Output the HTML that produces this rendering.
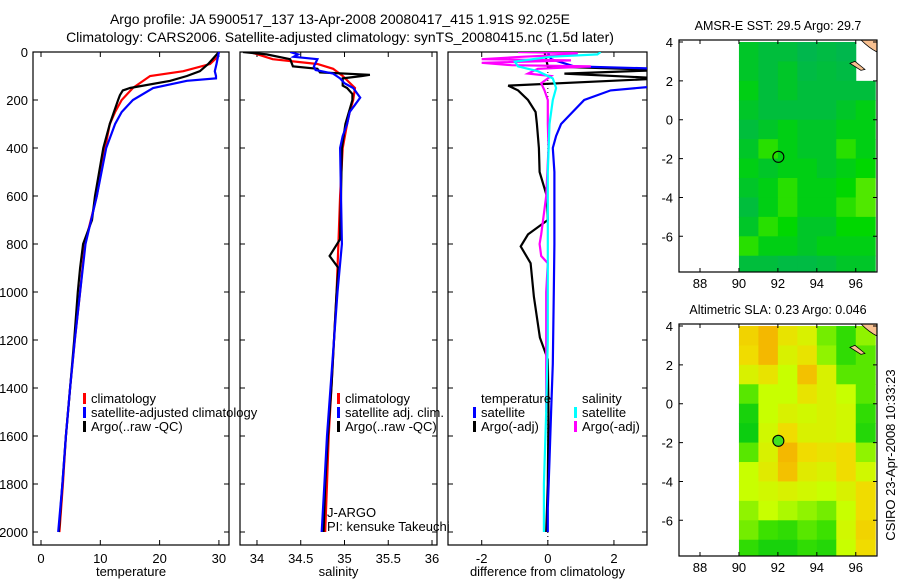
<!DOCTYPE html>
<html><head><meta charset="utf-8">
<style>
html,body{margin:0;padding:0;background:#fff;}
svg{display:block;font-family:"Liberation Sans",sans-serif;}
</style></head>
<body>
<svg id="fig" width="900" height="580" viewBox="0 0 900 580" xmlns="http://www.w3.org/2000/svg">
<text x="340" y="24" font-size="14" text-anchor="middle">Argo profile: JA 5900517_137 13-Apr-2008 20080417_415 1.91S 92.025E</text>
<text x="340" y="42" font-size="14" text-anchor="middle">Climatology: CARS2006. Satellite-adjusted climatology: synTS_20080415.nc (1.5d later)</text>
<g id="g1"></g>
<g id="g2"></g>
<g id="g3"></g>
<g id="m1"></g>
<g id="m2"></g>
<text transform="translate(895,455) rotate(-90)" font-size="13" text-anchor="middle">CSIRO 23-Apr-2008 10:33:23</text>
</svg>
<script>
// ---- profile data ----
const depthTicks = [0,200,400,600,800,1000,1200,1400,1600,1800,2000];
const tempTicks = [0,10,20,30];
const salTicks = [34,34.5,35,35.5,36];
const diffTicks = [-2,0,2];

const tClimDepth = [0,20,50,80,100,150,200,250,300,400,600,800,1000,1200,1400,1600,1800,2000];
const tClimVal   = [30,29.8,28.5,24,18.4,15.5,13.6,12.5,11.6,10.8,9.4,7.4,6.6,5.7,4.9,4.2,3.7,3.1];
const tSatDepth = [0,50,80,100,110,120,150,200,250,300,400,600,800,1000,1200,1400,1600,1800,2000];
const tSatVal   = [30,29.6,29.3,29.5,29.5,24.6,18.9,15.5,13.6,12.5,11,9.4,7.5,6.6,5.7,4.9,4.2,3.6,2.9];
const tArgoDepth = [0,50,80,100,120,150,160,180,200,300,400,600,700,800,900,1000,1200,1400,1600,1800,2000];
const tArgoVal   = [30,28.2,26.8,24.6,21.8,15,13.8,13.3,13,11.6,10.5,9.1,8.6,7.1,6.6,6.2,5.6,4.9,4.2,3.6,3.0];

const sClimDepth = [0,30,50,70,100,150,200,250,300,400,600,800,1000,1200,1400,1600,1800,2000];
const sClimVal   = [33.92,34.18,34.69,34.87,34.98,35.12,35.10,35.06,35.03,34.98,34.95,34.93,34.91,34.88,34.85,34.82,34.80,34.78];
const sSatDepth = [0,10,20,30,60,75,90,110,130,150,190,220,250,300,350,400,600,800,1000,1200,1400,1600,1800,2000];
const sSatVal   = [34.38,34.47,34.42,34.69,34.65,34.67,34.87,34.95,35.0,35.1,35.18,35.12,35.06,35.03,34.98,34.95,34.96,34.97,34.92,34.88,34.84,34.80,34.77,34.74];
const sArgoDepth = [0,10,30,60,70,85,95,100,110,140,150,175,200,250,300,400,600,780,850,900,1000,1200,1400,1600,1800,2000];
const sArgoVal   = [33.84,34.11,34.38,34.41,34.69,34.72,35.29,35.20,34.98,34.98,35.03,35.09,35.09,35.05,35.01,34.97,34.96,34.95,34.83,34.93,34.91,34.88,34.85,34.81,34.78,34.76];

const dTSatDepth = [0,30,60,70,100,140,160,200,250,300,350,400,500,600,800,1000,1300,1500,1700,1900,2000];
const dTSatVal   = [0,0.1,0.8,3.5,3.5,3.5,1.9,1.1,0.75,0.4,0.25,0.15,0.2,0.2,0.2,0.18,0.15,0.1,0.05,0,0];
const dTArgoDepth = [0,60,75,90,110,140,160,200,250,300,400,500,600,700,760,810,880,1020,1190,1280,1500,1800,2000];
const dTArgoVal   = [-0.1,0,3.5,0.5,3.5,-1.2,-0.9,-0.6,-0.37,-0.33,-0.27,-0.25,-0.03,0,-0.6,-0.82,-0.52,-0.42,-0.24,0,0.02,0,-0.05];
const dSSatDepth = [0,10,20,40,60,80,110,150,200,300,500,800,1000,1200,1500,1800,2000];
const dSSatVal   = [1.6,1.5,0.07,-1,-0.9,-0.3,0.15,0.25,0.15,0.05,0,0,0,0,-0.05,-0.12,-0.12];
const dSArgoDepth = [0,5,10,20,30,35,45,55,60,70,90,100,130,160,200,300,400,600,760,800,850,880,1000,1500];
const dSArgoVal   = [-0.9,0.9,0.8,-0.8,-2,0.7,-2,-1.1,1.3,-0.3,-0.6,0.1,-0.2,-0.1,0,0,0.02,-0.05,-0.2,-0.25,-0.2,0,-0.05,-0.05];

// ---- map data (1-degree cells, lon 90..97, lat 4..-8) ----
const mapLonStart = [90,91,92,93,94,95,96];
const mapLatStart = [4,3,2,1,0,-1,-2,-3,-4,-5,-6,-7];
const sstGrid = [
 [0.35,0.3,0.3,0.2,0.25,0.2,null],
 [0.35,0.3,0.35,0.25,0.3,0.25,null],
 [0.4,0.3,0.35,0.3,0.3,0.3,0.3],
 [0.35,0.3,0.3,0.3,0.3,0.35,0.4],
 [0.3,0.35,0.4,0.35,0.35,0.4,0.4],
 [0.35,0.5,0.4,0.35,0.35,0.5,0.4],
 [0.4,0.35,0.4,0.4,0.35,0.4,0.45],
 [0.35,0.4,0.5,0.4,0.4,0.45,0.55],
 [0.3,0.4,0.5,0.4,0.4,0.5,0.55],
 [0.35,0.5,0.45,0.35,0.35,0.45,0.45],
 [0.5,0.4,0.4,0.35,0.4,0.4,0.4],
 [0.3,0.3,0.25,0.25,0.3,0.35,0.35]];
const slaGrid = [
 [0.8,0.95,0.7,0.6,0.35,0.2,0.4],
 [0.75,0.95,0.6,0.7,0.4,0.2,0.3],
 [0.6,0.7,0.5,0.9,0.6,0.3,0.3],
 [0.3,0.5,0.5,0.7,0.6,0.5,0.3],
 [0.1,0.5,0.6,0.55,0.6,0.55,0.2],
 [0.05,0.55,0.75,0.6,0.6,0.55,0.15],
 [0.3,0.6,0.95,0.75,0.7,0.75,0.4],
 [0.5,0.65,0.9,0.65,0.6,0.75,0.55],
 [0.5,0.55,0.6,0.55,0.5,0.6,0.75],
 [0.4,0.5,0.45,0.4,0.35,0.5,0.75],
 [0.35,0.25,0.2,0.3,0.25,0.55,0.8],
 [0.2,0.1,0.1,0.2,0.15,0.5,0.75]];
const lonTicks = [88,90,92,94,96];
const latTicks = [4,2,0,-2,-4,-6];
const argoLon = [92.025];
const argoLat = [-1.91];

const NS="http://www.w3.org/2000/svg";
function mk(parent,tag,attrs){const e=document.createElementNS(NS,tag);for(const k in attrs)e.setAttribute(k,attrs[k]);parent.appendChild(e);return e;}
const yD = d => 52 + d*0.24;
const PTOP=52, PBOT=545;

function panel(g,x0,x1,v0,v1,ticks,label,showY,name){
  const sx = v => x0 + (v-v0)/(v1-v0)*(x1-x0);
  const fr = mk(g,'rect',{x:x0,y:PTOP,width:x1-x0,height:PBOT-PTOP,fill:'none',stroke:'#000','stroke-width':1.2});
  
  
  depthTicks.forEach(d=>{
    const y=yD(d);
    const t=mk(g,'path',{d:`M${x0} ${y}h5M${x1} ${y}h-5`,stroke:'#000','stroke-width':1});
    
    
    if(showY){
      const l=mk(g,'text',{x:x0-5,y:y+5,'font-size':13,'text-anchor':'end'});
      l.textContent=d;
      
      
    }
  });
  ticks.forEach(v=>{
    const x=sx(v);
    const t=mk(g,'path',{d:`M${x} ${PTOP}v5M${x} ${PBOT}v-5`,stroke:'#000','stroke-width':1});
    
    
    const l=mk(g,'text',{x:x,y:PBOT+18,'font-size':13,'text-anchor':'middle'});
    l.textContent=v;
    
    
  });
  const xl=mk(g,'text',{x:(x0+x1)/2,y:576,'font-size':13,'text-anchor':'middle'});
  xl.textContent=label;
  
  
  return sx;
}
function line(g,sx,depths,vals,color,name,clipId){
  const pts=depths.map((d,i)=>`${sx(vals[i]).toFixed(1)},${yD(d).toFixed(1)}`).join(' ');
  const p=mk(g,'polyline',{points:pts,fill:'none',stroke:color,'stroke-width':2.2,'clip-path':`url(#${clipId})`});
  
  
}
function clip(id,x0,x1){
  const defs=mk(document.getElementById('fig'),'defs',{});
  const c=mk(defs,'clipPath',{id:id});
  mk(c,'rect',{x:x0,y:PTOP,width:x1-x0,height:PBOT-PTOP});
}
function legend(g,x,y,color,txt,name){
  const m=mk(g,'rect',{x:x,y:y-10,width:3,height:11,fill:color});
  
  
  const t=mk(g,'text',{x:x+8,y:y,'font-size':13});
  t.textContent=txt;
  
  
}

// Panel 1
const g1=document.getElementById('g1');
clip('c1',33,229);
const sx1=panel(g1,33,229,-1.35,31.7,tempTicks,'temperature',true,'temperature-panel');
line(g1,sx1,tClimDepth,tClimVal,'#ff0000','temp-climatology-line','c1');
line(g1,sx1,tArgoDepth,tArgoVal,'#000000','temp-argo-line','c1');
line(g1,sx1,tSatDepth,tSatVal,'#0000ff','temp-satellite-line','c1');
legend(g1,83,403,'#ff0000','climatology','legend-climatology');
legend(g1,83,417,'#0000ff','satellite-adjusted climatology','legend-satellite');
legend(g1,83,431,'#000000','Argo(..raw -QC)','legend-argo');

// Panel 2
const g2=document.getElementById('g2');
clip('c2',240,437);
const sx2=panel(g2,240,437,33.806,36.057,salTicks,'salinity',false,'salinity-panel');
line(g2,sx2,sClimDepth,sClimVal,'#ff0000','sal-climatology-line','c2');
line(g2,sx2,sArgoDepth,sArgoVal,'#000000','sal-argo-line','c2');
line(g2,sx2,sSatDepth,sSatVal,'#0000ff','sal-satellite-line','c2');
legend(g2,337,403,'#ff0000','climatology','legend-sal-climatology');
legend(g2,337,417,'#0000ff','satellite adj. clim.','legend-sal-satellite');
legend(g2,337,431,'#000000','Argo(..raw -QC)','legend-sal-argo');
{const t=mk(g2,'text',{x:327,y:517,'font-size':13});t.textContent='J-ARGO';


const t2=mk(g2,'text',{x:327,y:531,'font-size':13});t2.textContent='PI: kensuke Takeuchi';

}

// Panel 3
const g3=document.getElementById('g3');
clip('c3',448,647);
const sx3=panel(g3,448,647,-3.02,3.0,diffTicks,'difference from climatology',false,'difference-panel');
{const z=mk(g3,'line',{x1:sx3(0),x2:sx3(0),y1:PTOP,y2:PBOT,stroke:'#000','stroke-width':1,'stroke-dasharray':'1,3'});

}
line(g3,sx3,dTArgoDepth,dTArgoVal,'#000000','diff-temp-argo-line','c3');
line(g3,sx3,dTSatDepth,dTSatVal,'#0000ff','diff-temp-satellite-line','c3');
line(g3,sx3,dSArgoDepth,dSArgoVal,'#ff00ff','diff-sal-argo-line','c3');
line(g3,sx3,dSSatDepth,dSSatVal,'#00ffff','diff-sal-satellite-line','c3');
{const t=mk(g3,'text',{x:481,y:403,'font-size':13});t.textContent='temperature';


const t2=mk(g3,'text',{x:582,y:403,'font-size':13});t2.textContent='salinity';

}
legend(g3,473,417,'#0000ff','satellite','legend-diff-temp-satellite');
legend(g3,473,431,'#000000','Argo(-adj)','legend-diff-temp-argo');
legend(g3,574,417,'#00ffff','satellite','legend-diff-sal-satellite');
legend(g3,574,431,'#ff00ff','Argo(-adj)','legend-diff-sal-argo');

// Maps
function lerp(a,b,t){return a.map((v,i)=>Math.round(v+(b[i]-v)*t));}
function cmap(stops,v){
  for(let i=0;i<stops.length-1;i++){
    if(v<=stops[i+1][0]){const t=(v-stops[i][0])/(stops[i+1][0]-stops[i][0]);const c=lerp(stops[i][1],stops[i+1][1],Math.max(0,t));return `rgb(${c})`;}
  }
  return `rgb(${stops[stops.length-1][1]})`;
}
const sstStops=[[0,[0,170,110]],[0.3,[0,190,60]],[0.45,[0,215,0]],[0.6,[120,240,0]],[1,[230,255,0]]];
const slaStops=[[0,[0,200,20]],[0.25,[60,225,0]],[0.5,[200,255,0]],[0.75,[240,220,0]],[1,[245,175,0]]];

function drawMap(gid,top,bottom,grid,stops,title,filled,name){
  const g=document.getElementById(gid);
  const x0=679,x1=877;
  const sx=lon=>700+(lon-88)*19.47;
  const latTop=4+(42-40)/19.43;
  const sy=lat=>top+(latTop-lat)*19.43+ (top===40?0:0);
  const defs=mk(g,'defs',{});
  const cp=mk(defs,'clipPath',{id:gid+'clip'});
  mk(cp,'rect',{x:x0,y:top,width:x1-x0,height:bottom-top});
  const cg=mk(g,'g',{'clip-path':`url(#${gid}clip)`});
  
  
  grid.forEach((row,r)=>row.forEach((v,c)=>{
    if(v===null)return;
    const lon=mapLonStart[c],lat=mapLatStart[r];
    const rc=mk(cg,'rect',{x:sx(lon),y:sy(lat),width:sx(lon+1)-sx(lon)+0.5,height:sy(lat-1)-sy(lat)+0.5,fill:cmap(stops,v)});
    
    
  }));
  // land patches
  const land=mk(cg,'path',{d:`M${x1-16} ${top} Q${x1-8} ${top+8} ${x1} ${top+12} L${x1} ${top} Z`,fill:'#f8c090',stroke:'#000','stroke-width':0.8});
  
  
  const isl=mk(cg,'path',{d:`M${sx(95.7)} ${sy(2.9)} l5 -2 l10 8 l-4 1 z`,fill:'#f8c090',stroke:'#000','stroke-width':0.8});
  
  
  const fr=mk(g,'rect',{x:x0,y:top,width:x1-x0,height:bottom-top,fill:'none',stroke:'#000','stroke-width':1.2});
  
  
  lonTicks.forEach(v=>{
    const x=sx(v);
    const t=mk(g,'path',{d:`M${x} ${top}v4M${x} ${bottom}v-4`,stroke:'#000'});
    
    
    const l=mk(g,'text',{x:x,y:bottom+16,'font-size':13,'text-anchor':'middle'});
    l.textContent=v;
    
    
  });
  latTicks.forEach(v=>{
    const y=sy(v);
    const t=mk(g,'path',{d:`M${x0} ${y}h4M${x1} ${y}h-4`,stroke:'#000'});
    
    
    const l=mk(g,'text',{x:x0-6,y:y+5,'font-size':13,'text-anchor':'end'});
    l.textContent=v;
    
    
  });
  const tt=mk(g,'text',{x:(x0+x1)/2,y:top-10,'font-size':12.5,'text-anchor':'middle'});
  tt.textContent=title;
  
  
  const ci=mk(g,'circle',{cx:sx(argoLon[0]),cy:sy(argoLat[0]),r:5.5,fill:filled?'#40e020':'none',stroke:'#000','stroke-width':1.1});
  
  
}
drawMap('m1',40,272,sstGrid,sstStops,'AMSR-E SST: 29.5 Argo: 29.7',false,'sst-map');
drawMap('m2',324,556,slaGrid,slaStops,'Altimetric SLA: 0.23 Argo: 0.046',true,'sla-map');
</script>
</body></html>
